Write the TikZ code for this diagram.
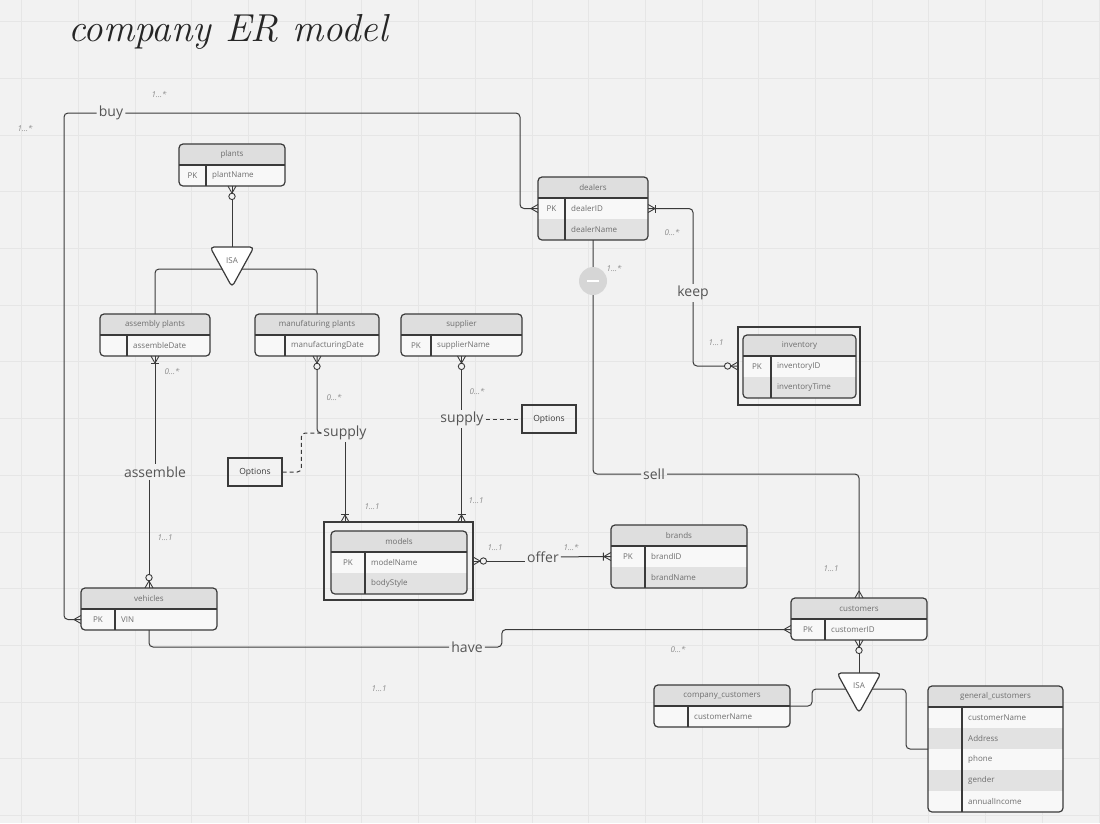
\documentclass[tikz,border=0pt]{standalone}
\usepackage{fontspec}
\newfontfamily\labelfont{Open Sans}
\usetikzlibrary{decorations.markings}
\definecolor{BGgray}{HTML}{F2F2F2}
\definecolor{GRIDgray}{HTML}{E6E6E6}
\definecolor{LINEdark}{HTML}{3A3A3A}
\definecolor{HEADfill}{HTML}{DEDEDE}
\definecolor{ROWlight}{HTML}{F8F8F8}
\definecolor{ROWdark}{HTML}{E2E2E2}
\definecolor{TXTgray}{HTML}{6E6E6E}
\definecolor{LBLgray}{HTML}{555555}
\definecolor{CARDgray}{HTML}{8A8A8A}
\definecolor{FOLDgray}{HTML}{D6D6D6}

% crow's foot ends, drawn with +x pointing into the entity
\newcommand{\crowfoot}{\draw[tipline] (-7pt,0pt) -- (0pt,4pt) (-7pt,0pt) -- (0pt,-4pt);}
\newcommand{\onecrow}{\crowfoot\draw[tipline] (-7.5pt,-4pt) -- (-7.5pt,4pt);}
\newcommand{\zerocrow}{\crowfoot\draw[tipline, fill=BGgray] (-10.3pt,0pt) circle (3.2pt);}

\tikzset{
  gridline/.style={draw=GRIDgray, line width=1pt},
  link/.style={draw=LINEdark, line width=1pt, rounded corners=4pt},
  optlink/.style={draw=LINEdark, line width=1pt, dash pattern=on 4pt off 3pt, rounded corners=4pt},
  tipline/.style={draw=LINEdark, line width=0.9pt},
  end tip/.style={postaction={decorate, decoration={markings,
      mark=at position -0.1pt with {#1}}}},
  start tip/.style={postaction={decorate, decoration={markings,
      mark=at position 0.1pt with {\begin{scope}[xscale=-1]#1\end{scope}}}}},
  rowbox/.style={rectangle, anchor=north west, minimum height=21, inner sep=0pt, outer sep=0pt},
  tablebox/.style={rectangle, draw=LINEdark, line width=1.2pt, rounded corners=4pt,
      anchor=north west, inner sep=0pt, outer sep=0pt},
  tableline/.style={draw=LINEdark, line width=1.1pt},
  weakbox/.style={rectangle, draw=LINEdark, line width=1.2pt, anchor=north west,
      inner sep=0pt, outer sep=0pt},
  cell/.style={font=\labelfont\fontsize{8}{9}\selectfont, text=TXTgray, inner sep=1pt},
  rel/.style={font=\labelfont\fontsize{14}{16}\selectfont, text=LBLgray, inner sep=2pt},
  card/.style={font=\labelfont\itshape\fontsize{8}{9}\selectfont, text=CARDgray, inner sep=1pt},
  optbox/.style={draw=LINEdark, line width=1.2pt, minimum width=54, minimum height=28,
      inner sep=1pt, font=\labelfont\fontsize{8.5}{10}\selectfont, text=LINEdark},
  isashape/.style={draw=LINEdark, line width=1.2pt, fill=white, rounded corners=4pt},
}

% #1 name, #2 left, #3 top, #4 width, #5 key width, #6 rows, #7 title, #8 key/attr
\newcommand{\ertable}[8]{%
  \begin{scope}
    \clip[rounded corners=4pt] (#2,#3) rectangle ++(#4,{21*(#6+1)});
    \fill[HEADfill] (#2,#3) rectangle ++(#4,21);
    \foreach \k/\a [count=\i] in {#8} {
      \ifodd\i\relax\def\ertrowcol{ROWlight}\else\def\ertrowcol{ROWdark}\fi
      \node[rowbox, fill=\ertrowcol, minimum width=#4] (#1-\i) at (#2,{#3+21*\i}) {};
      \node[cell] (#1-\i-key) at ({#2+#5/2},{#3+21*\i+10.5}) {\k};
      \node[cell, anchor=west] (#1-\i-attr) at ({#2+#5+5},{#3+21*\i+10.5}) {\a};
    }
  \end{scope}
  \node[cell] (#1-head) at ({#2+#4/2},{#3+10.5}) {#7};
  \draw[tableline] (#2,{#3+21}) -- ++(#4,0);
  \draw[tableline] ({#2+#5},{#3+21}) -- ({#2+#5},{#3+21*(#6+1)});
  \node[tablebox, minimum width=#4, minimum height={21*(#6+1)}] (#1) at (#2,#3) {};
}

\begin{document}
\begin{tikzpicture}[x=1pt,y=-1pt]
  \fill[BGgray] (0,0) rectangle (1100,823);
  \useasboundingbox (0,0) rectangle (1100,823);
  \foreach \g in {0,...,19} \draw[gridline] ({21.7+56.7*\g},0) -- ({21.7+56.7*\g},823);
  \foreach \g in {0,...,14} \draw[gridline] (0,{21.7+56.7*\g}) -- (1100,{21.7+56.7*\g});

  \node[font=\itshape\fontsize{39}{41}\selectfont, text=black!85] (title) at (228,32) {company ER model};

  % entities
  \ertable{pl}{179}{144}{106}{27}{1}{plants}{PK/plantName}
  \ertable{dl}{538}{177}{110}{27}{2}{dealers}{PK/dealerID, {}/dealerName}
  \ertable{asm}{100}{314}{110}{27}{1}{assembly plants}{{}/assembleDate}
  \ertable{mp}{255}{314}{124}{30}{1}{manufaturing plants}{{}/manufacturingDate}
  \ertable{sp}{401}{314}{121}{30}{1}{supplier}{PK/supplierName}
  \ertable{inv}{743}{335}{113}{28}{2}{inventory}{PK/inventoryID, {}/inventoryTime}
  \ertable{md}{331}{531}{136}{34}{2}{models}{PK/modelName, {}/bodyStyle}
  \ertable{br}{611}{525}{136}{34}{2}{brands}{PK/brandID, {}/brandName}
  \ertable{veh}{81}{588}{136}{34}{1}{vehicles}{PK/VIN}
  \ertable{cu}{791}{598}{136}{34}{1}{customers}{PK/customerID}
  \ertable{cc}{654}{685}{136}{34}{1}{company\_customers}{{}/customerName}
  \ertable{gc}{928}{686}{135}{34}{5}{general\_customers}{{}/customerName, {}/Address, {}/phone, {}/gender, {}/annualIncome}
  \node[weakbox, minimum width=149, minimum height=78] (mdbox) at (324,522) {};
  \node[weakbox, minimum width=122, minimum height=78] (invbox) at (738,327) {};

  % relationship labels
  \node[rel] (buy) at (111,113) {buy};
  \node[rel] (assemble) at (155,472) {assemble};
  \node[rel] (supply1) at (345,433) {supply};
  \node[rel] (supply2) at (462,419) {supply};
  \node[rel] (offer) at (543,557) {offer};
  \node[rel] (keep) at (693,293) {keep};
  \node[rel] (sell) at (654,474) {sell};
  \node[rel] (have) at (467,647) {have};
  \node[optbox] (opt1) at (255,472) {Options};
  \node[optbox] (opt2) at (549,419) {Options};
  \coordinate (isa1top) at (232,247);
  \coordinate (isa1mid) at (232,269);
  \coordinate (isa2top) at (859,673);
  \coordinate (isa2mid) at (859,689);
  \coordinate (buyleft) at (64,113);
  \coordinate (buyright) at (520,113);

  % connectors
  \draw[link, start tip=\zerocrow] (pl.south) -- (isa1top);
  \draw[link] (asm.north) |- (isa1mid) -| (mp.north);
  \draw[link, start tip=\onecrow] (asm.south) -- (assemble);
  \draw[link, end tip=\zerocrow] (assemble.south -| veh.north) -- (veh.north);
  \draw[link, start tip=\zerocrow] (mp.south) |- (supply1);
  \draw[link, end tip=\onecrow] (supply1) -- (supply1 |- mdbox.north);
  \draw[optlink] (supply1.west) -- ++(-20,0) |- (opt1);
  \draw[link, start tip=\zerocrow] (sp.south) -- (sp.south |- supply2.north);
  \draw[link, end tip=\onecrow] (sp.south |- supply2.south) -- (sp.south |- mdbox.north);
  \draw[optlink] (supply2) -- (opt2);
  \draw[link, start tip=\zerocrow] (mdbox.east) -- (mdbox.east -| offer.west);
  \draw[link, end tip=\onecrow] (offer) -- (br-1.west);
  \draw[link, end tip=\crowfoot] (buy) -- (buyleft) |- (veh-1.west);
  \draw[link, end tip=\crowfoot] (buy) -- (buyright) |- (dl-1.west);
  \draw[link, start tip=\onecrow] (dl-1.east) -| (keep);
  \draw[link, end tip=\zerocrow] (keep) |- (invbox.west);
  \draw[link] (dl.south) |- (sell);
  \draw[link, end tip=\crowfoot] (sell) -| (cu.north);
  \draw[link] (veh.south) |- (have);
  \draw[link, end tip=\crowfoot] (have.east) -- ++(17,0) |- (cu-1.west);
  \draw[link, start tip=\zerocrow] (cu.south) -- (isa2top);
  \draw[link] (cc.east) -- ++(22,0) |- (isa2mid);
  \draw[link] (gc.west) -- ++(-22,0) |- (isa2mid);

  % ISA triangles
  \draw[isashape] (210,247) -- (254,247) -- (232,287) -- cycle;
  \node[cell] (isa1) at (232,261) {ISA};
  \draw[isashape] (837,673) -- (881,673) -- (859,713) -- cycle;
  \node[cell] (isa2) at (859,686) {ISA};

  \node[circle, fill=FOLDgray, minimum size=28, inner sep=0pt] (dlfold) at (593,281) {};
  \draw[white, line width=2pt] ([xshift=-6pt]dlfold.center) -- ([xshift=6pt]dlfold.center);

  % cardinalities
  \node[card] (buycard1) at (159,94) {1...*};
  \node[card] (buycard2) at (25,128) {1...*};
  \node[card] (asmcard) at (172,371) {0...*};
  \node[card] (vehcard) at (165,538) {1...1};
  \node[card] (mpcard) at (334,397) {0...*};
  \node[card] (mdcard1) at (372,507) {1...1};
  \node[card] (spcard) at (477,391) {0...*};
  \node[card] (mdcard2) at (476,501) {1...1};
  \node[card] (mdcard3) at (495,548) {1...1};
  \node[card] (brcard) at (571,547) {1...*};
  \node[card] (keepcard1) at (672,232) {0...*};
  \node[card] (keepcard2) at (716,343) {1...1};
  \node[card] (sellcard1) at (614,268) {1...*};
  \node[card] (sellcard2) at (831,569) {1...1};
  \node[card] (havecard1) at (678,649) {0...*};
  \node[card] (havecard2) at (379,689) {1...1};
\end{tikzpicture}
\end{document}
